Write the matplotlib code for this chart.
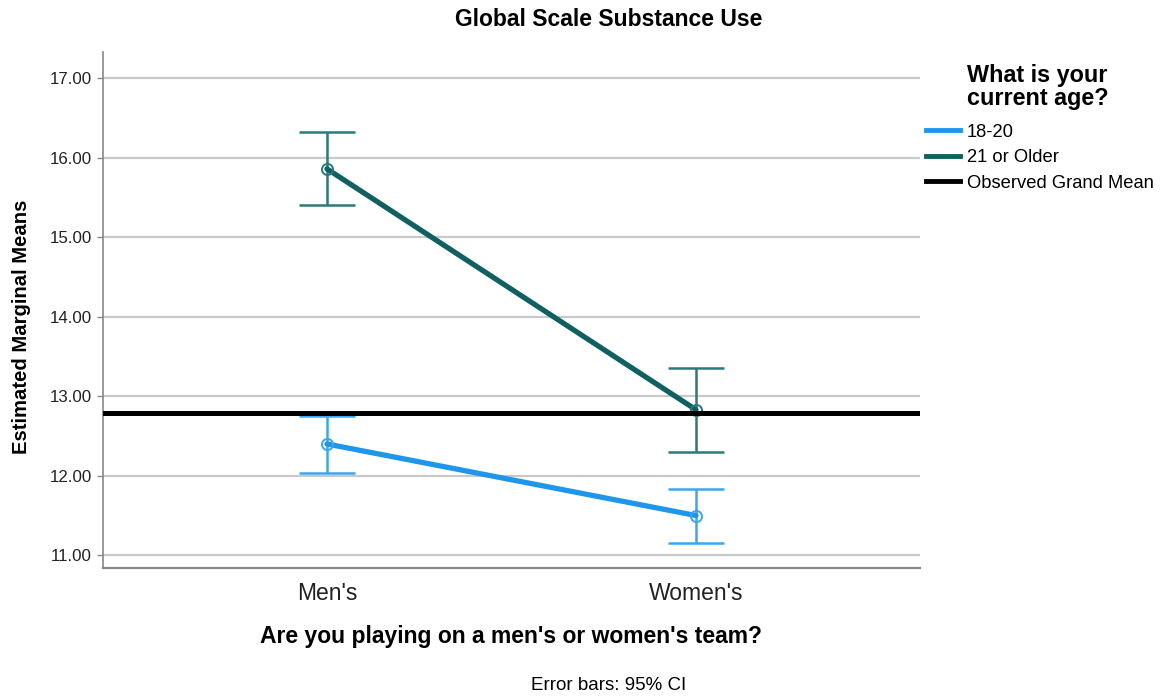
import matplotlib
matplotlib.use("Agg")
import matplotlib.pyplot as plt
from matplotlib.lines import Line2D

plt.rcParams['font.family'] = ['Liberation Sans', 'DejaVu Sans']

# Data
teams = ["Men's", "Women's"]
age_groups = ["18-20", "21 or Older"]
means_18_20 = [12.40, 11.50]
lower_18_20 = [12.04, 11.16]
upper_18_20 = [12.75, 11.83]
means_21_plus = [15.86, 12.83]
lower_21_plus = [15.40, 12.30]
upper_21_plus = [16.32, 13.36]
grand_mean = 12.79
y_ticks = [11, 12, 13, 14, 15, 16, 17]

line_colors = ['#1e96ec', '#0f6060']
bar_colors = ['#3aa7f0', '#2b7a7a']

fig = plt.figure(figsize=(11.64, 6.96), dpi=100)
W, H = 1164, 696
ax_left, ax_right, ax_top, ax_bottom = 103, 920, 52, 568
ax = fig.add_axes([ax_left / W, 1 - ax_bottom / H,
                   (ax_right - ax_left) / W, (ax_bottom - ax_top) / H])

x = list(range(len(teams)))
ax.set_xlim(-0.607, 1.607)
ax.set_ylim(10.84, 17.33)

for yv in y_ticks:
    ax.axhline(yv, color='#c9c9c9', lw=1.6, zorder=0)

series = [(means_18_20, lower_18_20, upper_18_20),
          (means_21_plus, lower_21_plus, upper_21_plus)]
for (m, lo, hi), lc, bc in zip(series, line_colors, bar_colors):
    err = [[mv - l for mv, l in zip(m, lo)], [h - mv for mv, h in zip(m, hi)]]
    ax.errorbar(x, m, yerr=err, fmt='none', ecolor=bc, elinewidth=1.8,
                capsize=20, capthick=1.8, zorder=2)
    ax.plot(x, m, color=lc, lw=3.8, solid_capstyle='round', zorder=3)
    ax.plot(x, m, linestyle='none', marker='o', ms=8, mfc='none',
            mec=bc, mew=1.4, zorder=4)

ax.axhline(grand_mean, color='black', lw=3.6, zorder=5)

ax.set_xticks(x)
ax.set_xticklabels(teams, fontsize=16.5, color='#222222')
ax.set_yticks(y_ticks)
ax.set_yticklabels([f"{v:.2f}" for v in y_ticks], fontsize=12.2, color='#222222')
ax.tick_params(axis='x', length=0, pad=10)
ax.tick_params(axis='y', length=4, width=1, color='#888888', pad=4)

for s in ['top', 'right']:
    ax.spines[s].set_visible(False)
ax.spines['left'].set_color('#888888')
ax.spines['left'].set_linewidth(1.2)
ax.spines['bottom'].set_color('#888888')
ax.spines['bottom'].set_linewidth(1.6)

fig.text(609 / W, 1 - 20 / H, "Global Scale Substance Use", ha='center',
         va='center', fontsize=16.5, fontweight='bold')
fig.text(511 / W, 1 - 637 / H, "Are you playing on a men's or women's team?",
         ha='center', va='center', fontsize=16.5, fontweight='bold')
fig.text(609 / W, 1 - 685 / H, "Error bars: 95% CI", ha='center',
         va='center', fontsize=13.5)
fig.text(22 / W, 1 - 327 / H, "Estimated Marginal Means", ha='center',
         va='center', rotation=90, fontsize=14.6, fontweight='bold')

fig.text(967 / W, 1 - 87 / H, "What is your\ncurrent age?", ha='left',
         va='center', fontsize=16.8, fontweight='bold', linespacing=0.95)

handles = [Line2D([0], [0], color=line_colors[0], lw=3.5),
           Line2D([0], [0], color=line_colors[1], lw=3.5),
           Line2D([0], [0], color='black', lw=3.5)]
labels = age_groups + ["Observed Grand Mean"]
leg = fig.legend(handles, labels, loc='upper left',
                 bbox_to_anchor=(922 / W, 1 - 120 / H), frameon=False,
                 fontsize=13.2, handlelength=1.85, handletextpad=0.4,
                 labelspacing=0.47, borderaxespad=0, borderpad=0.2)

fig.savefig('out.png', dpi=100)
